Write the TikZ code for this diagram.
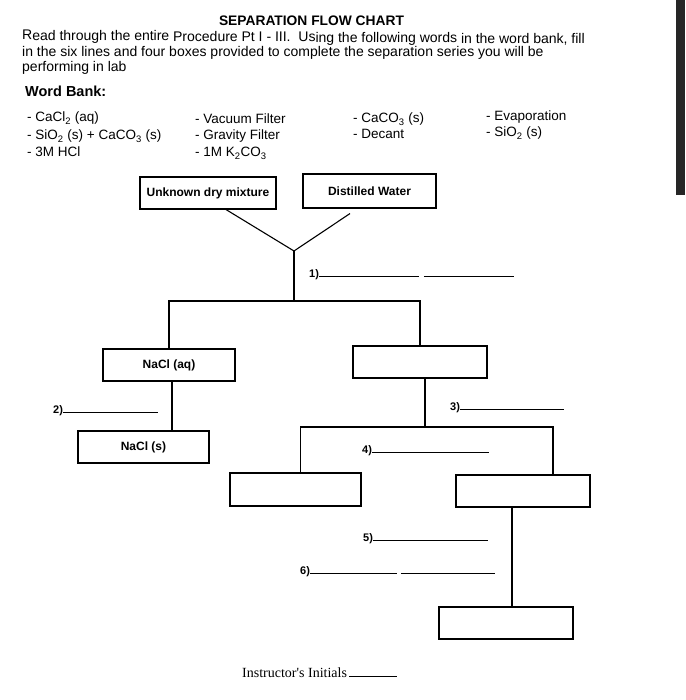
\documentclass[tikz,border=0pt]{standalone}
\usepackage{fontspec}
\setmainfont{Liberation Sans}
\newfontfamily\initfont{Liberation Serif}
\usetikzlibrary{positioning,calc}
\newcommand{\blank}[1]{\rule{#1pt}{0.7pt}}

\begin{document}
\begin{tikzpicture}[x=1pt,y=-1pt,
  box/.style={draw,line width=1.1pt,inner sep=0pt,minimum width=#1,minimum height=32pt,
    font=\bfseries\fontsize{12}{14}\selectfont},
  txt/.style={anchor=base west,inner sep=0pt,font=\fontsize{14}{16}\selectfont},
  wrd/.style={anchor=base west,inner sep=0pt,font=\fontsize{13.5}{16}\selectfont},
  lbl/.style={anchor=base west,inner sep=0pt,font=\bfseries\fontsize{11}{13}\selectfont},
  link/.style={line width=1.1pt}]
\useasboundingbox (0,0) rectangle (685,700);
\fill[gray!30!black] (676,0) rectangle (685,195);

% heading and word bank
\node[anchor=base,inner sep=0pt,font=\bfseries\fontsize{13.8}{16}\selectfont] (ttl) at (311.5,26) {SEPARATION FLOW CHART};
\node[txt,rotate=-0.4] (p1) at (22,40) {Read through the entire Procedure Pt I - III.\ \ Using the following words in the word bank, fill};
\node[txt] (p2) at (22,56.5) {in the six lines and four boxes provided to complete the separation series you will be};
\node[txt] (p3) at (22,72) {performing in lab};
\node[txt,font=\bfseries\fontsize{14.5}{17}\selectfont] (wb) at (25,97) {Word Bank:};

\node[wrd] (w1) at (27,122) {- CaCl\textsubscript{2} (aq)};
\node[wrd] (w2) at (27,140) {- SiO\textsubscript{2} (s) + CaCO\textsubscript{3} (s)};
\node[wrd] (w3) at (27,157) {- 3M HCl};
\node[wrd] (w4) at (195,124) {- Vacuum Filter};
\node[wrd] (w5) at (195,140) {- Gravity Filter};
\node[wrd] (w6) at (195,157) {- 1M K\textsubscript{2}CO\textsubscript{3}};
\node[wrd] (w7) at (353,123) {- CaCO\textsubscript{3} (s)};
\node[wrd] (w8) at (353,139) {- Decant};
\node[wrd] (w9) at (486,121) {- Evaporation};
\node[wrd] (w10) at (486,137) {- SiO\textsubscript{2} (s)};

% boxes
\node[box=136pt] (unk) at (208,193) {Unknown dry mixture};
\node[box=133pt,minimum height=34pt] (dw) at (369.5,191) {Distilled Water};
\node[box=132pt] (aq) at (169,365) {NaCl (aq)};
\node[box=134pt] (mid) at (420,362) {};
\node[box=131pt] (s) at (143.5,447) {NaCl (s)};
\node[box=131pt,minimum height=33pt] (bl) at (295.5,489.5) {};
\node[box=134pt] (br) at (523,491) {};
\node[box=134pt] (bot) at (506,623) {};

% connectors
\coordinate (j) at (294,251);
\coordinate (b1) at (294,301);
\coordinate (b2) at (425,427);
\draw[link] ([xshift=18pt]unk.south) -- (j);
\draw[link] ([xshift=-19.5pt,yshift=-5pt]dw.south) -- (j);
\draw[link] (j) -- (b1);
\draw[link] (aq.north) |- (b1) -| (mid.north);
\draw[link] ([xshift=3pt]aq.south) -- ([xshift=3pt]aq.south |- s.north);
\draw[link] ([xshift=5pt]mid.south) -- (b2);
\draw[link] ([xshift=5pt]bl.north) |- (b2) -| ([xshift=30pt]br.north);
\draw[link] ([xshift=-11pt]br.south) -- ([xshift=-11pt]br.south |- bot.north);

% lines to fill in
\node[lbl] (l1) at (309,277) {1)\blank{100}\hspace{5pt}\blank{90}};
\node[lbl] (l2) at (53,413) {2)\blank{95}};
\node[lbl] (l3) at (450,410) {3)\blank{104}};
\node[lbl] (l4) at (362,453) {4)\blank{117}};
\node[lbl] (l5) at (363,541) {5)\blank{115}};
\node[lbl] (l6) at (300,574) {6)\blank{87}\hspace{4pt}\blank{94}};
\node[anchor=base west,inner sep=0pt,font=\initfont\fontsize{14}{16}\selectfont] (ini) at (242,677) {Instructor's Initials\,\blank{48}};
\end{tikzpicture}
\end{document}
